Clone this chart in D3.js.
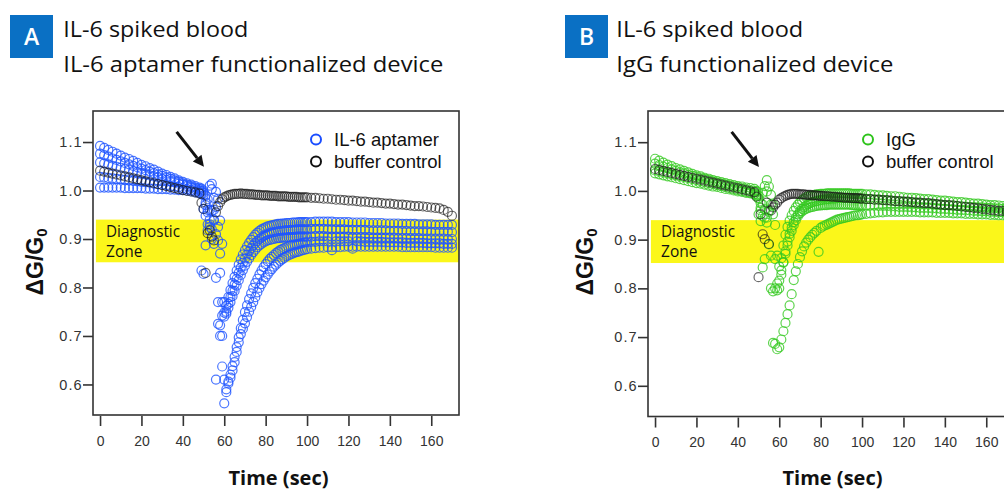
<!DOCTYPE html>
<html>
<head>
<meta charset="utf-8">
<script src="https://cdn.jsdelivr.net/npm/d3@7"></script>
<style>
  body { margin: 0; background: #fff; }
  svg { display: block; }
</style>
</head>
<body>
<div id="chart"></div>
<script>
// sampling times (sec) shared by every trace
const times = [0,2,4,6,8,10,12,14,16,18,20,22,24,26,28,30,32,34,36,38,40,42,44,46,48,
  49,50,51,52,53,54,55,56,57,58,
  59,60,61,62,63,64,65,66,67,68,
  69,70,71,72,73,74,75,76,77,78,
  79,80,81,82,83,84,85,86,87,88,
  89,90,91,92,93,94,95,96,97,98,99,
  100,102,104,106,108,110,112,114,116,
  118,120,122,124,126,128,130,132,134,
  136,138,140,142,144,146,148,150,152,
  154,156,158,160,162,164,166,168,170];

// panel A: IL-6 aptamer device, five runs
const aptamer1 = [1.092,1.088,1.084,1.080,1.076,1.072,1.068,1.065,1.061,1.057,1.053,1.050,1.046,1.043,1.039,1.035,1.032,1.028,1.025,1.021,1.018,1.015,1.012,1.009,1.006,
  1.004,1.000,0.990,0.982,1.010,1.014,0.985,0.966,0.925,0.870,
  0.770,0.748,0.762,0.780,0.795,0.809,0.822,0.835,0.847,0.858,
  0.868,0.877,0.885,0.892,0.898,0.904,0.909,0.913,0.917,0.920,
  0.922,0.924,0.926,0.927,0.928,0.929,0.930,0.931,0.931,0.932,
  0.932,0.933,0.933,0.933,0.934,0.934,0.934,0.935,0.935,0.935,0.935,
  0.935,0.935,0.936,0.936,0.936,0.936,0.936,0.935,0.935,
  0.935,0.935,0.934,0.934,0.934,0.934,0.933,0.933,0.933,
  0.933,0.932,0.932,0.932,0.932,0.931,0.931,0.931,0.931,
  0.930,0.930,0.930,0.930,0.929,0.929,0.929,0.929,0.929];
const aptamer2 = [1.076,1.073,1.070,1.066,1.063,1.060,1.057,1.054,1.051,1.048,1.045,1.042,1.039,1.036,1.033,1.030,1.027,1.024,1.021,1.018,1.015,1.012,1.009,1.006,1.003,
  1.000,0.962,0.948,0.918,0.930,1.003,0.938,0.910,0.897,0.830,
  0.742,0.740,0.750,0.766,0.780,0.793,0.806,0.818,0.830,0.841,
  0.851,0.860,0.868,0.875,0.881,0.887,0.892,0.896,0.900,0.903,
  0.906,0.908,0.910,0.912,0.913,0.914,0.915,0.916,0.917,0.917,
  0.918,0.918,0.918,0.919,0.919,0.919,0.920,0.920,0.920,0.920,0.920,
  0.920,0.921,0.921,0.921,0.921,0.920,0.920,0.920,0.920,
  0.920,0.919,0.919,0.919,0.919,0.919,0.918,0.918,0.918,
  0.918,0.918,0.917,0.917,0.917,0.917,0.917,0.916,0.916,
  0.916,0.916,0.916,0.915,0.915,0.915,0.915,0.915,0.914];
const aptamer3 = [1.058,1.056,1.054,1.051,1.049,1.047,1.045,1.043,1.040,1.038,1.036,1.034,1.031,1.029,1.027,1.024,1.022,1.019,1.017,1.014,1.012,1.009,1.006,1.003,1.000,
  0.998,0.995,0.970,0.955,0.940,0.920,0.960,0.997,0.983,0.938,
  0.890,0.770,0.746,0.758,0.770,0.782,0.793,0.804,0.815,0.826,
  0.836,0.845,0.853,0.860,0.867,0.873,0.878,0.883,0.887,0.890,
  0.893,0.895,0.897,0.898,0.899,0.900,0.901,0.902,0.902,0.903,
  0.903,0.903,0.904,0.904,0.904,0.904,0.905,0.905,0.905,0.905,0.905,
  0.905,0.905,0.906,0.906,0.906,0.905,0.905,0.905,0.905,
  0.905,0.905,0.904,0.904,0.904,0.904,0.904,0.903,0.903,
  0.903,0.903,0.903,0.903,0.902,0.902,0.902,0.902,0.902,
  0.902,0.901,0.901,0.901,0.901,0.901,0.901,0.900,0.900];
const aptamer4 = [1.028,1.027,1.026,1.025,1.024,1.023,1.022,1.021,1.020,1.019,1.018,1.017,1.016,1.014,1.013,1.012,1.011,1.009,1.008,1.007,1.005,1.003,1.001,0.999,0.997,
  0.835,0.828,0.887,0.930,0.960,0.958,0.940,0.610,0.725,0.700,
  0.637,0.610,0.584,0.606,0.620,0.638,0.657,0.677,0.697,0.716,
  0.733,0.749,0.763,0.776,0.788,0.799,0.809,0.818,0.827,0.835,
  0.842,0.848,0.854,0.859,0.863,0.867,0.871,0.874,0.877,0.879,
  0.881,0.883,0.885,0.886,0.887,0.888,0.889,0.890,0.891,0.892,0.893,
  0.893,0.894,0.894,0.895,0.895,0.895,0.877,0.895,0.895,
  0.895,0.895,0.880,0.895,0.895,0.894,0.894,0.894,0.894,
  0.894,0.893,0.893,0.893,0.893,0.893,0.892,0.892,0.892,
  0.892,0.892,0.891,0.891,0.891,0.891,0.890,0.890,0.890];
const aptamer5 = [1.006,1.006,1.006,1.006,1.006,1.006,1.005,1.005,1.005,1.005,1.005,1.004,1.004,1.004,1.003,1.003,1.003,1.002,1.002,1.001,1.001,1.000,0.998,0.996,0.994,
  0.993,0.990,0.975,0.960,0.925,0.900,0.890,0.820,0.770,0.722,
  0.700,0.561,0.590,0.602,0.614,0.629,0.646,0.667,0.687,0.704,
  0.715,0.726,0.739,0.750,0.760,0.770,0.780,0.790,0.799,0.807,
  0.814,0.821,0.827,0.833,0.838,0.843,0.847,0.851,0.855,0.858,
  0.861,0.864,0.866,0.868,0.870,0.872,0.873,0.874,0.876,0.877,0.878,
  0.879,0.880,0.881,0.882,0.882,0.883,0.883,0.883,0.883,
  0.884,0.884,0.884,0.884,0.884,0.884,0.884,0.884,0.884,
  0.884,0.884,0.884,0.884,0.884,0.883,0.883,0.883,0.883,
  0.883,0.883,0.883,0.883,0.882,0.882,0.882,0.882,0.882];
const bufferA = [1.041,1.039,1.037,1.035,1.033,1.031,1.029,1.027,1.025,1.023,1.021,1.019,1.017,1.015,1.013,1.011,1.009,1.007,1.005,1.003,1.001,0.999,0.998,0.996,0.994,
  0.975,0.962,0.830,0.912,0.918,0.905,0.897,0.955,0.968,0.976,
  0.982,0.986,0.988,0.990,0.991,0.992,0.993,0.993,0.993,0.994,
  0.993,0.993,0.993,0.992,0.992,0.992,0.991,0.991,0.991,0.990,
  0.990,0.990,0.990,0.989,0.989,0.989,0.989,0.988,0.988,0.988,
  0.988,0.988,0.987,0.987,0.987,0.987,0.987,0.986,0.986,0.986,0.986,
  0.986,0.985,0.985,0.984,0.983,0.983,0.982,0.981,0.981,
  0.980,0.979,0.979,0.978,0.977,0.977,0.976,0.975,0.975,
  0.974,0.973,0.973,0.972,0.971,0.971,0.970,0.969,0.968,
  0.968,0.967,0.966,0.965,0.964,0.963,0.960,0.956,0.948];

// panel B: IgG device, four runs
const igg1 = [1.066,1.062,1.058,1.054,1.051,1.047,1.044,1.041,1.038,1.035,1.032,1.030,1.027,1.025,1.022,1.020,1.018,1.016,1.014,1.012,1.010,1.009,1.007,1.006,1.004,
  1.000,0.990,0.975,0.996,1.010,1.022,1.009,0.992,0.972,0.930,
  0.867,0.845,0.862,0.888,0.910,0.926,0.939,0.950,0.959,0.966,
  0.972,0.977,0.981,0.984,0.987,0.989,0.990,0.991,0.992,0.993,
  0.993,0.994,0.994,0.994,0.995,0.995,0.995,0.995,0.995,0.995,
  0.995,0.995,0.995,0.995,0.995,0.995,0.994,0.994,0.994,0.994,0.994,
  0.994,0.993,0.993,0.992,0.991,0.991,0.990,0.989,0.989,
  0.988,0.987,0.986,0.986,0.985,0.984,0.983,0.983,0.982,
  0.981,0.980,0.980,0.979,0.978,0.977,0.977,0.976,0.975,
  0.974,0.974,0.973,0.972,0.971,0.971,0.970,0.969,0.968];
const igg2 = [1.056,1.053,1.050,1.047,1.044,1.041,1.038,1.036,1.033,1.031,1.028,1.026,1.024,1.022,1.019,1.017,1.015,1.013,1.011,1.009,1.007,1.005,1.003,1.001,0.999,
  0.998,0.952,0.938,0.972,0.945,0.999,0.960,0.972,0.952,0.860,
  0.810,0.800,0.828,0.853,0.876,0.896,0.912,0.925,0.936,0.945,
  0.952,0.958,0.963,0.967,0.970,0.973,0.975,0.977,0.978,0.979,
  0.980,0.981,0.982,0.982,0.983,0.983,0.984,0.984,0.984,0.985,
  0.985,0.985,0.985,0.985,0.985,0.985,0.985,0.985,0.984,0.984,0.984,
  0.984,0.983,0.983,0.982,0.982,0.981,0.980,0.980,0.979,
  0.978,0.978,0.977,0.976,0.976,0.975,0.974,0.974,0.973,
  0.972,0.972,0.971,0.970,0.970,0.969,0.968,0.968,0.967,
  0.967,0.966,0.966,0.965,0.965,0.964,0.964,0.963,0.962];
const igg3 = [1.042,1.040,1.038,1.036,1.034,1.032,1.030,1.028,1.026,1.024,1.022,1.020,1.018,1.016,1.014,1.012,1.010,1.008,1.006,1.004,1.002,1.000,0.998,0.996,0.994,
  0.990,0.985,0.960,0.843,0.860,0.945,0.890,0.800,0.688,0.686,
  0.675,0.679,0.695,0.712,0.729,0.747,0.765,0.788,0.817,0.835,
  0.850,0.864,0.876,0.886,0.894,0.900,0.905,0.910,0.914,0.918,
  0.875,0.924,0.927,0.929,0.931,0.933,0.935,0.937,0.939,0.941,
  0.942,0.943,0.944,0.945,0.946,0.947,0.948,0.949,0.950,0.950,0.951,
  0.952,0.953,0.954,0.955,0.956,0.956,0.957,0.957,0.957,
  0.957,0.957,0.957,0.957,0.957,0.956,0.956,0.956,0.956,
  0.955,0.955,0.955,0.955,0.954,0.954,0.954,0.953,0.953,
  0.953,0.952,0.952,0.952,0.951,0.951,0.950,0.950,0.949];
const igg4 = [1.036,1.034,1.032,1.030,1.028,1.026,1.024,1.022,1.020,1.018,1.016,1.015,1.013,1.011,1.009,1.008,1.006,1.004,1.003,1.001,0.999,0.998,0.996,0.995,0.993,
  0.993,0.984,0.965,0.948,0.962,0.935,0.957,0.867,0.794,0.800,
  0.796,0.816,0.837,0.854,0.871,0.888,0.905,0.918,0.930,0.940,
  0.948,0.954,0.958,0.961,0.963,0.965,0.966,0.967,0.968,0.969,
  0.970,0.970,0.971,0.971,0.971,0.972,0.972,0.972,0.972,0.972,
  0.972,0.972,0.972,0.972,0.972,0.972,0.971,0.971,0.971,0.971,0.971,
  0.971,0.970,0.970,0.970,0.969,0.969,0.969,0.968,0.968,
  0.967,0.967,0.967,0.966,0.966,0.965,0.965,0.965,0.964,
  0.964,0.963,0.963,0.962,0.962,0.961,0.961,0.960,0.960,
  0.959,0.959,0.958,0.958,0.957,0.957,0.956,0.956,0.955];
const bufferB = [1.045,1.043,1.041,1.039,1.037,1.035,1.033,1.031,1.029,1.027,1.025,1.023,1.021,1.019,1.017,1.015,1.013,1.011,1.009,1.007,1.005,1.003,1.001,0.999,0.997,
  0.988,0.823,0.952,0.911,0.901,0.976,0.891,0.960,0.966,0.972,
  0.976,0.982,0.985,0.988,0.990,0.992,0.993,0.994,0.994,0.994,
  0.994,0.993,0.993,0.993,0.992,0.992,0.992,0.991,0.991,0.991,
  0.990,0.990,0.990,0.989,0.989,0.989,0.988,0.988,0.988,0.987,
  0.987,0.987,0.986,0.986,0.986,0.986,0.985,0.985,0.985,0.985,0.984,
  0.984,0.983,0.983,0.982,0.982,0.981,0.981,0.980,0.979,
  0.979,0.978,0.978,0.977,0.976,0.976,0.975,0.975,0.974,
  0.973,0.972,0.971,0.971,0.970,0.969,0.968,0.967,0.966,
  0.965,0.964,0.963,0.962,0.961,0.960,0.959,0.959,0.958];

const xTicks = [0, 20, 40, 60, 80, 100, 120, 140, 160];
const yTicks = [0.6, 0.7, 0.8, 0.9, 1.0, 1.1];
const zone = [0.852, 0.940];          // diagnostic zone, ΔG/G0
const arrowFrom = [37, 1.121], arrowTo = [50.2, 1.049];

const panels = [
  { letter: "A", title: ["IL-6 spiked blood", "IL-6 aptamer functionalized device"],
    titleLen: [185, 380], left: 93, bottom: 415, dx: 0, labelX: 43,
    runs: [aptamer1, aptamer2, aptamer3, aptamer4, aptamer5], control: bufferA,
    color: "#1f55ff", legendColor: "#1a4dff", legendName: "IL-6 aptamer" },
  { letter: "B", title: ["IL-6 spiked blood", "IgG functionalized device"],
    titleLen: [187, 277], left: 648, bottom: 416.5, dx: 553, labelX: 593,
    runs: [igg1, igg2, igg3, igg4], control: bufferB,
    color: "#36c922", legendColor: "#2ec41c", legendName: "IgG" }
];

const W = 1004, H = 491;
const svg = d3.select("#chart").append("svg")
  .attr("width", W).attr("height", H)
  .style("font-family", "'Liberation Sans', Arial, sans-serif");

svg.append("rect").attr("width", W).attr("height", H).attr("fill", "#fff");

panels.forEach(p => {
  const x = d3.scaleLinear().domain([-3.4, 173.4]).range([p.left, p.left + 366]);
  const y = d3.scaleLinear().domain([0.537, 1.164]).range([p.bottom, 111]);
  const g = svg.append("g");

  // header
  g.append("rect")
    .attr("x", 10 + (p.dx ? 555 : 0)).attr("y", 15)
    .attr("width", 43).attr("height", 43)
    .attr("fill", "#0a70c4");
  g.append("text")
    .attr("x", 31.5 + (p.dx ? 555 : 0)).attr("y", 45)
    .attr("text-anchor", "middle")
    .style("font-family", "'Open Sans', sans-serif")
    .style("font-size", "23px").style("font-weight", 600)
    .attr("fill", "#fff").text(p.letter);
  p.title.forEach((t, i) => {
    g.append("text")
      .attr("x", 63.3 + p.dx).attr("y", i ? 71.5 : 37)
      .attr("textLength", p.titleLen[i]).attr("lengthAdjust", "spacingAndGlyphs")
      .style("font-family", "'Open Sans', sans-serif")
      .style("font-size", "22px")
      .attr("fill", "#111").text(t);
  });

  // diagnostic zone
  g.append("rect")
    .attr("x", x(-2)).attr("y", y(zone[1]))
    .attr("width", x(173.4) - x(-2)).attr("height", y(zone[0]) - y(zone[1]))
    .attr("fill", "#fbf71a");
  g.append("text")
    .attr("x", x(2.9)).attr("y", 236.5)
    .attr("textLength", 74).attr("lengthAdjust", "spacingAndGlyphs")
    .style("font-family", "'Open Sans', sans-serif").style("font-size", "15.5px")
    .attr("fill", "#111").text("Diagnostic");
  g.append("text")
    .attr("x", x(2.9)).attr("y", 257)
    .style("font-family", "'Open Sans', sans-serif").style("font-size", "15.5px")
    .attr("fill", "#111").text("Zone");

  // markers
  const drawRun = (vals, color, opacity) => {
    g.append("g").selectAll("circle")
      .data(d3.zip(times, vals))
      .join("circle")
        .attr("cx", d => x(d[0]))
        .attr("cy", d => y(d[1]))
        .attr("r", 4.5)
        .attr("fill", "none")
        .attr("stroke", color)
        .attr("stroke-width", 1.2)
        .attr("stroke-opacity", opacity);
  };
  p.runs.forEach(r => drawRun(r, p.color, 0.8));
  drawRun(p.control, "#1a1a1a", 0.65);

  // frame
  g.append("rect")
    .attr("x", p.left).attr("y", 111)
    .attr("width", 366).attr("height", p.bottom - 111)
    .attr("fill", "none").attr("stroke", "#333").attr("stroke-width", 1.6);

  // axes
  const xAxis = g.append("g")
    .attr("transform", `translate(0,${p.bottom + 1})`)
    .call(d3.axisBottom(x).tickValues(xTicks).tickSize(10).tickPadding(10));
  const yAxis = g.append("g")
    .attr("transform", `translate(${p.left},0)`)
    .call(d3.axisLeft(y).tickValues(yTicks).tickSize(10).tickPadding(1.5).tickFormat(d3.format(".1f")));
  [xAxis, yAxis].forEach(a => {
    a.select(".domain").remove();
    a.selectAll("line").attr("stroke", "#333").attr("stroke-width", 1.6);
    a.selectAll("text").attr("fill", "#333")
      .style("font-family", "'Liberation Sans', Arial, sans-serif")
      .style("font-size", "14px");
  });
  yAxis.selectAll("text").style("font-size", "14.5px")
    .style("letter-spacing", "1px").attr("dx", "1px");

  // axis titles
  g.append("text")
    .attr("x", 278.5 + (p.dx ? 554 : 0)).attr("y", 485)
    .attr("text-anchor", "middle")
    .style("font-family", "'Open Sans', sans-serif")
    .style("font-size", "20px").style("font-weight", 700)
    .attr("fill", "#111").text("Time (sec)");
  const yl = g.append("text")
    .attr("transform", `translate(${p.labelX},262) rotate(-90)`)
    .attr("text-anchor", "middle")
    .style("font-size", "23px").style("font-weight", 700)
    .attr("fill", "#111");
  yl.append("tspan").text("ΔG/G");
  yl.append("tspan").attr("dy", 4).style("font-size", "15px").text("0");

  // arrow
  const x1 = x(arrowFrom[0]), y1 = y(arrowFrom[1]);
  const x2 = x(arrowTo[0]), y2 = y(arrowTo[1]);
  const ang = Math.atan2(y2 - y1, x2 - x1);
  const hl = 11, hw = 5.5;
  const bx = x2 - hl * Math.cos(ang), by = y2 - hl * Math.sin(ang);
  g.append("line")
    .attr("x1", x1).attr("y1", y1).attr("x2", bx).attr("y2", by)
    .attr("stroke", "#111").attr("stroke-width", 3);
  g.append("path")
    .attr("d", `M${x2},${y2}L${bx - hw * Math.sin(ang)},${by + hw * Math.cos(ang)}L${bx + hw * Math.sin(ang)},${by - hw * Math.cos(ang)}Z`)
    .attr("fill", "#111");

  // legend
  const lx = 316 + (p.dx ? 552 : 0);
  [[p.legendName, p.legendColor, 139.5], ["buffer control", "#111", 161.5]].forEach(([name, col, ly]) => {
    g.append("circle").attr("cx", lx).attr("cy", ly).attr("r", 5)
      .attr("fill", "none").attr("stroke", col).attr("stroke-width", 2);
    g.append("text").attr("x", lx + 18).attr("y", ly + 6.5)
      .style("font-size", "18.5px").attr("fill", "#111").text(name);
  });
});
</script>
</body>
</html>
